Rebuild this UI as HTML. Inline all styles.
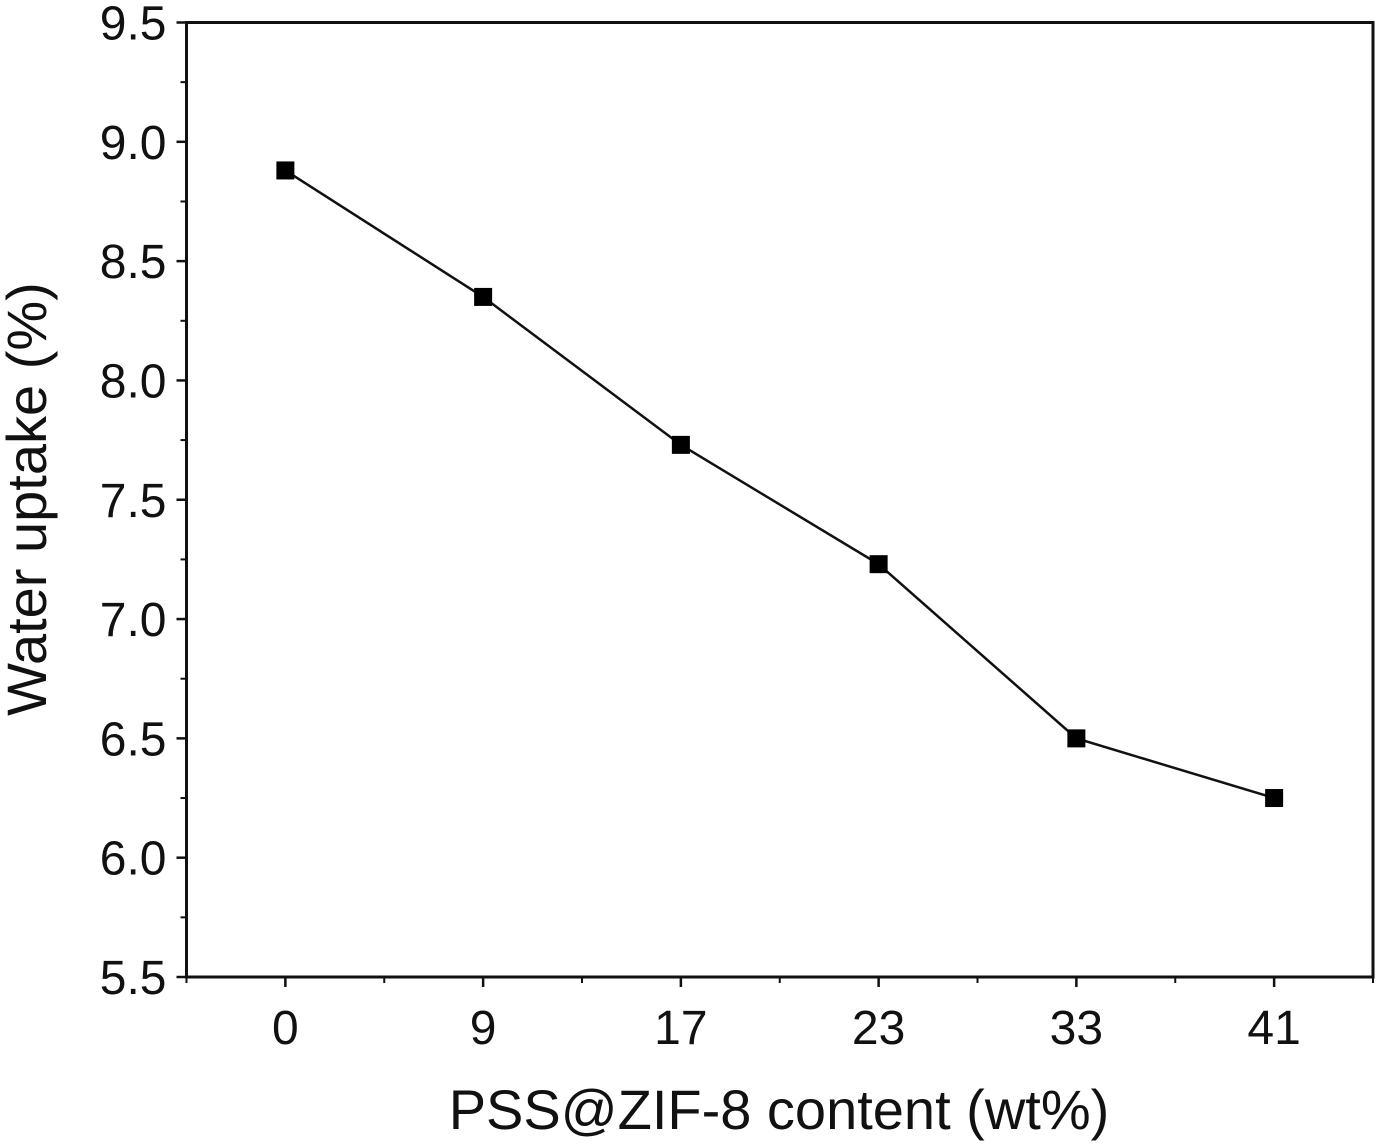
<!DOCTYPE html>
<html><head><meta charset="utf-8"><style>
html,body{margin:0;padding:0;background:#fff;}
svg{display:block;font-family:"Liberation Sans",Arial,sans-serif;}
</style></head><body>
<svg id="chart" width="1378" height="1144" viewBox="0 0 1378 1144" xmlns="http://www.w3.org/2000/svg">
<g id="axes"></g>
<g id="series"></g>
<text x="779" y="1129" font-size="56" text-anchor="middle" fill="#111">PSS@ZIF-8 content (wt%)</text>
<text transform="translate(46,499) rotate(-90)" font-size="56" text-anchor="middle" fill="#111">Water uptake (%)</text>
</svg>
<script>
const categories = ["0","9","17","23","33","41"];
const values = [8.88, 8.35, 7.73, 7.23, 6.50, 6.25];
const yTicks = [5.5,6.0,6.5,7.0,7.5,8.0,8.5,9.0,9.5];
const yTickLabels = ["5.5","6.0","6.5","7.0","7.5","8.0","8.5","9.0","9.5"];

const L=186.5,R=1373,T=22.5,B=977;
const yMin=5.5,yMax=9.5;
const n=categories.length;
function x(i){return L+(i+0.5)*(R-L)/n;}
function y(v){return B-(v-yMin)/(yMax-yMin)*(B-T);}
const NS="http://www.w3.org/2000/svg";
const axes=document.getElementById('axes');
const series=document.getElementById('series');
function mk(tag,attrs,parent){const e=document.createElementNS(NS,tag);for(const k in attrs)e.setAttribute(k,attrs[k]);parent.appendChild(e);return e;}

const frame=mk('rect',{x:L,y:T,width:R-L,height:B-T,fill:'none',stroke:'#111','stroke-width':3},axes);



yTicks.forEach((v,i)=>{
  const t=mk('line',{x1:L-10,x2:L,y1:y(v),y2:y(v),stroke:'#111','stroke-width':2.5},axes);
  
  
  if(i<yTicks.length-1){
    const m=mk('line',{x1:L-6,x2:L,y1:y(v+0.25),y2:y(v+0.25),stroke:'#111','stroke-width':2},axes);
    
    
  }
  const lb=mk('text',{x:L-20,y:y(v)+17,'font-size':48,'text-anchor':'end',fill:'#111'},axes);
  lb.textContent=yTickLabels[i];
  
  
});
for(let i=0;i<n;i++){
  const t=mk('line',{x1:x(i),x2:x(i),y1:B,y2:B+10,stroke:'#111','stroke-width':2.5},axes);
  
  
  const lb=mk('text',{x:x(i),y:B+67,'font-size':48,'text-anchor':'middle',fill:'#111'},axes);
  lb.textContent=categories[i];
  
  
}
for(let i=0;i<=n;i++){
  const xm=L+i*(R-L)/n;
  const m=mk('line',{x1:xm,x2:xm,y1:B,y2:B+6,stroke:'#111','stroke-width':2},axes);
  
  
}
const pts=values.map((v,i)=>x(i)+','+y(v)).join(' ');
const line=mk('polyline',{points:pts,fill:'none',stroke:'#111','stroke-width':2.5},series);


values.forEach((v,i)=>{
  const r=mk('rect',{x:x(i)-9,y:y(v)-9,width:18,height:18,fill:'#000'},series);
  
  
});
</script>
</body></html>
